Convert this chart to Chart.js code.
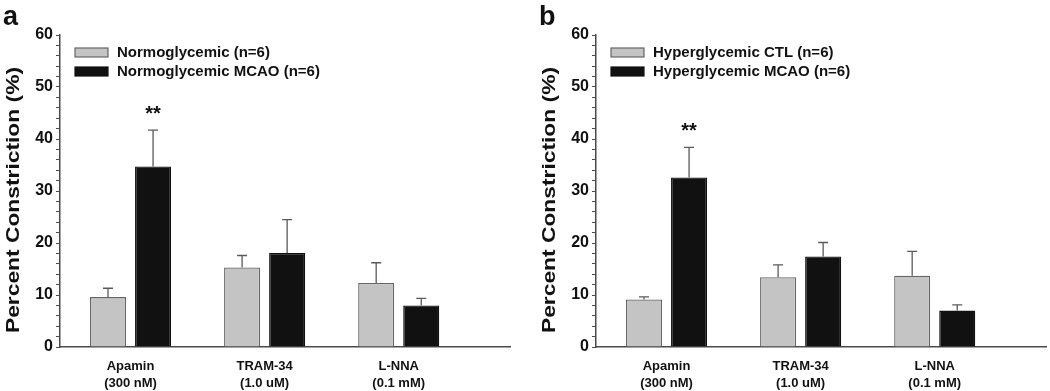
<!DOCTYPE html>
<html>
<head>
<meta charset="utf-8">
<script src="https://cdn.jsdelivr.net/npm/chart.js@4/dist/chart.umd.min.js"></script>
<style>
body { margin: 0; background: #fff; }
#wrap { position: relative; width: 1050px; height: 391px; }
canvas { position: absolute; top: 0; }
</style>
</head>
<body>
<div id="wrap">
  <canvas id="chartA" width="525" height="391" style="left:0"></canvas>
  <canvas id="chartB" width="514" height="391" style="left:536px"></canvas>
</div>
<script>
// categories (two-line tick labels)
const categories = [["Apamin", "(300 nM)"], ["TRAM-34", "(1.0 uM)"], ["L-NNA", "(0.1 mM)"]];
const yTitle = "Percent Constriction (%)";
const yTickStep = 2;
const yMajor = 10;

// panel a
const normLabel = "Normoglycemic (n=6)";
const normValues = [9.6, 15.3, 12.3];
const normErrors = [1.7, 2.3, 3.9];
const normMcaoLabel = "Normoglycemic MCAO (n=6)";
const normMcaoValues = [34.7, 18.1, 8.0];
const normMcaoErrors = [7.0, 6.4, 1.35];
const normMcaoStars = ["**", "", ""];

// panel b
const hyperLabel = "Hyperglycemic CTL (n=6)";
const hyperValues = [9.15, 13.4, 13.7];
const hyperErrors = [0.5, 2.4, 4.7];
const hyperMcaoLabel = "Hyperglycemic MCAO (n=6)";
const hyperMcaoValues = [32.6, 17.4, 7.0];
const hyperMcaoErrors = [5.8, 2.7, 1.1];
const hyperMcaoStars = ["**", "", ""];

const FONT = "'Liberation Sans', Arial, sans-serif";
const AXIS = "#4a4a4a";

// upper error bars + significance stars
const errorBarPlugin = {
    id: "errorBars",
    afterDatasetsDraw(chart) {
        const ctx = chart.ctx;
        const y = chart.scales.y;
        ctx.save();
        chart.data.datasets.forEach((ds, di) => {
            const meta = chart.getDatasetMeta(di);
            meta.data.forEach((bar, i) => {
                const top = y.getPixelForValue(ds.data[i].y + ds.errors[i]);
                ctx.strokeStyle = "#5a5a5a";
                ctx.lineWidth = 1.3;
                ctx.beginPath();
                ctx.moveTo(bar.x, bar.y);
                ctx.lineTo(bar.x, top);
                ctx.moveTo(bar.x - 5, top);
                ctx.lineTo(bar.x + 5, top);
                ctx.stroke();
                if (ds.stars && ds.stars[i]) {
                    ctx.fillStyle = "#111";
                    ctx.font = "bold 20px " + FONT;
                    ctx.textAlign = "center";
                    ctx.textBaseline = "alphabetic";
                    ctx.fillText(ds.stars[i], bar.x, top - 10);
                }
            });
        });
        ctx.restore();
    }
};

// legend boxes, y title and panel letter
const legendPlugin = {
    id: "boxLegend",
    afterDraw(chart, args, opts) {
        const ctx = chart.ctx;
        const area = chart.chartArea;
        ctx.save();
        chart.data.datasets.forEach((ds, i) => {
            const top = 48 + i * 19;
            ctx.fillStyle = ds.backgroundColor;
            ctx.fillRect(area.left + 15, top, 33, 9);
            ctx.strokeStyle = ds.borderColor;
            ctx.lineWidth = 1.2;
            ctx.strokeRect(area.left + 15, top, 33, 9);
            ctx.fillStyle = "#111";
            ctx.font = "bold 15px " + FONT;
            ctx.textAlign = "left";
            ctx.textBaseline = "middle";
            ctx.fillText(ds.label, area.left + 57, top + 5);
        });
        // y axis title, slightly elongated like the original
        ctx.save();
        ctx.translate(14, 200);
        ctx.rotate(-Math.PI / 2);
        ctx.scale(1.2, 1);
        ctx.font = "bold 19px " + FONT;
        ctx.textAlign = "center";
        ctx.textBaseline = "middle";
        ctx.fillText(yTitle, 0, 0);
        ctx.restore();
        ctx.font = "bold 27px " + FONT;
        ctx.textAlign = "left";
        ctx.textBaseline = "alphabetic";
        ctx.fillText(opts.letter, 3, 25);
        ctx.restore();
    }
};

function makeChart(canvasId, letter, series, rightPad) {
    const datasets = series.map(s => ({
        label: s.label,
        data: s.values.map((v, i) => ({ x: i, y: v })),
        errors: s.errors,
        stars: s.stars,
        backgroundColor: s.fill,
        borderColor: s.border,
        borderWidth: 1.3,
        categoryPercentage: 0.672,
        barPercentage: 0.8
    }));
    return new Chart(document.getElementById(canvasId), {
        type: "bar",
        data: { datasets: datasets },
        options: {
            responsive: false,
            animation: false,
            layout: { padding: { top: 35, left: 0, right: rightPad, bottom: 0 } },
            plugins: {
                legend: { display: false },
                tooltip: { enabled: false },
                boxLegend: { letter: letter }
            },
            scales: {
                x: {
                    type: "linear",
                    offset: false,
                    min: -0.526,
                    max: 2.83,
                    afterBuildTicks: scale => {
                        scale.ticks = categories.map((c, i) => ({ value: i }));
                    },
                    afterFit: scale => { scale.height = 44; },
                    grid: { display: false },
                    border: { display: true, color: AXIS, width: 1.5 },
                    ticks: {
                        padding: 3,
                        maxRotation: 0,
                        autoSkip: false,
                        color: "#111",
                        font: { family: FONT, size: 13, weight: "bold", lineHeight: 1.3 },
                        callback: v => categories[v] || ""
                    }
                },
                y: {
                    min: 0,
                    max: 60,
                    afterFit: scale => { scale.width = 60; },
                    grid: { drawOnChartArea: false, tickLength: 4, color: AXIS, tickWidth: 1 },
                    border: { display: true, color: AXIS, width: 1.5 },
                    ticks: {
                        stepSize: yTickStep,
                        autoSkip: false,
                        padding: 3,
                        color: "#111",
                        font: { family: FONT, size: 16, weight: "bold" },
                        callback: v => (v % yMajor === 0 ? v : "")
                    }
                }
            }
        },
        plugins: [errorBarPlugin, legendPlugin]
    });
}

makeChart("chartA", "a", [
    { label: normLabel, values: normValues, errors: normErrors, fill: "#c4c4c4", border: "#666666" },
    { label: normMcaoLabel, values: normMcaoValues, errors: normMcaoErrors, stars: normMcaoStars, fill: "#111111", border: "#111111" }
], 15);

makeChart("chartB", "b", [
    { label: hyperLabel, values: hyperValues, errors: hyperErrors, fill: "#c4c4c4", border: "#666666" },
    { label: hyperMcaoLabel, values: hyperMcaoValues, errors: hyperMcaoErrors, stars: hyperMcaoStars, fill: "#111111", border: "#111111" }
], 4);
</script>
</body>
</html>
